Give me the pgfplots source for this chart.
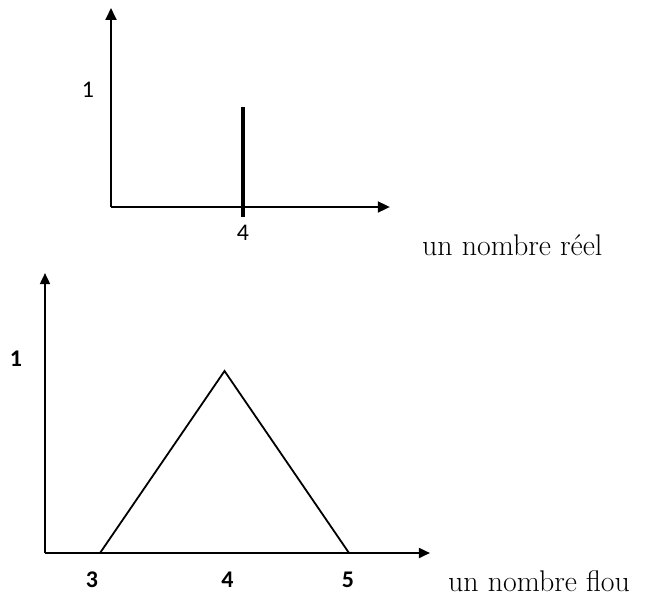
\documentclass[border=0pt]{standalone}
\usepackage{fontspec}
\usepackage{pgfplots}
\pgfplotsset{compat=1.18}
\usetikzlibrary{arrows.meta}
\newfontfamily\carlito{Carlito}
\begin{document}
\begin{tikzpicture}
\useasboundingbox (0,0) rectangle (653bp,-596bp);
% top: a real number
\begin{axis}[at={(111bp,-207bp)}, anchor=south west, scale only axis,
  x=33bp, y=100bp, xmin=0, xmax=8.45, ymin=0, ymax=1.99,
  axis lines=left,
  axis line style={line width=1.8bp, -{Triangle[length=12bp,width=11bp]}},
  clip=false, xtick={4}, ytick={1}, xticklabels={4}, yticklabels={1},
  major tick length=0pt,
  ticklabel style={font=\carlito\fontsize{24}{28}\selectfont, inner sep=0pt},
  xticklabel style={anchor=center, yshift=-26bp},
  yticklabel style={anchor=center, xshift=-23bp, yshift=17bp}]
\addplot[black, line width=4.3bp, no markers] coordinates {(4,-0.1) (4,1)};
\end{axis}
% bottom: a fuzzy number
\begin{axis}[at={(45bp,-553bp)}, anchor=south west, scale only axis,
  x=124.5bp, y=182bp, xmin=2.558, xmax=5.65, ymin=0, ymax=1.538,
  axis lines=left,
  axis line style={line width=1.8bp, -{Triangle[length=11bp,width=10bp]}},
  clip=false, xtick={3,4,5}, ytick={1},
  xticklabels={{\hspace{-16bp}3},{\hspace{6bp}4},{\hspace{-2bp}5}}, yticklabels={1},
  major tick length=0pt,
  ticklabel style={font=\carlito\bfseries\fontsize{24}{28}\selectfont, inner sep=0pt},
  xticklabel style={anchor=center, yshift=-27bp},
  yticklabel style={anchor=center, xshift=-29bp, yshift=12bp}]
\addplot[black, line width=1.8bp, no markers, line join=miter] coordinates {(3,0) (4,1) (5,0) (3,0)};
\end{axis}
\node[anchor=base west, inner sep=0pt, font=\fontsize{30}{36}\selectfont] at (422bp,-255bp) {un nombre réel};
\node[anchor=base west, inner sep=0pt, font=\fontsize{30}{36}\selectfont] at (448bp,-591bp) {un nombre flou};
\end{tikzpicture}
\end{document}
